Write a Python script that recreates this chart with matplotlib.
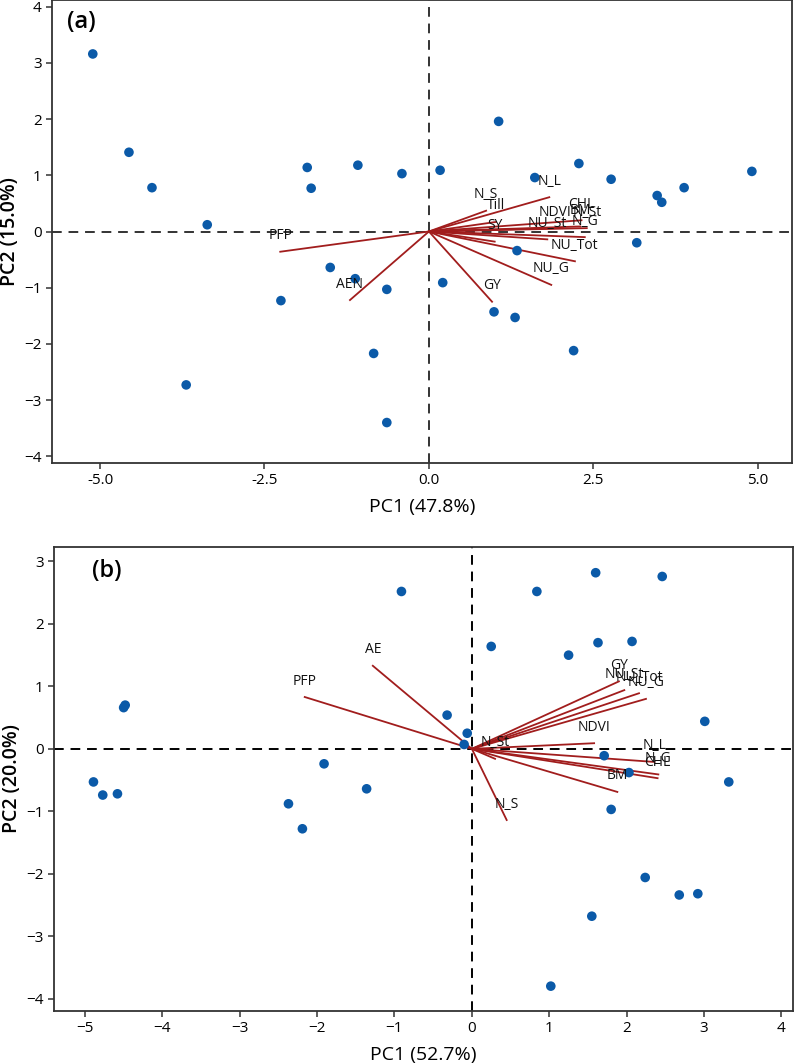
import numpy as np
import matplotlib
matplotlib.use("Agg")
import matplotlib.pyplot as plt

plt.rcParams['font.family'] = ['Open Sans', 'DejaVu Sans']

# ---- panel (a): scores ----
pc1_a = [-5.11, -4.56, -4.21, -3.37, -3.69, -1.85, -1.79, -1.08, -0.41, 0.17,
         1.06, 1.61, 2.28, 2.77, 3.47, 3.54, 3.88, 4.91, 3.16, 1.34,
         -1.50, -1.12, -0.64, -2.25, 0.21, 0.99, 1.31, -0.84, 2.20, -0.64]
pc2_a = [3.16, 1.41, 0.78, 0.12, -2.73, 1.14, 0.77, 1.18, 1.03, 1.09,
         1.96, 0.96, 1.21, 0.93, 0.64, 0.52, 0.78, 1.07, -0.20, -0.34,
         -0.64, -0.84, -1.03, -1.23, -0.91, -1.43, -1.53, -2.17, -2.12, -3.40]

# ---- panel (a): loadings ----
vars_a = ["PFP", "AEN", "GY", "NU_G", "NU_Tot", "N_L", "N_S", "Till", "SY",
          "NDVI", "CHL", "BM", "N_St", "N_G", "NU_St"]
load1_a = [-2.26, -1.20, 0.96, 1.86, 2.22, 1.83, 0.87, 1.02, 1.00,
           1.91, 2.32, 2.30, 2.40, 2.37, 1.80]
load2_a = [-0.36, -1.22, -1.25, -0.95, -0.53, 0.61, 0.37, 0.17, -0.18,
           0.06, 0.20, 0.09, 0.06, -0.10, -0.14]

# ---- panel (b): scores ----
pc1_b = [-4.89, -4.77, -4.58, -4.50, -4.48, -2.37, -2.19, -1.91, -1.36, -0.91,
         -0.32, -0.06, -0.10, 0.25, 0.84, 1.25, 1.60, 1.63, 2.07, 2.46,
         3.01, 3.32, 1.71, 2.03, 1.80, 2.24, 2.68, 2.92, 1.55, 1.02]
pc2_b = [-0.53, -0.74, -0.72, 0.66, 0.70, -0.88, -1.28, -0.24, -0.64, 2.52,
         0.54, 0.25, 0.07, 1.64, 2.52, 1.50, 2.82, 1.70, 1.72, 2.76,
         0.44, -0.53, -0.11, -0.38, -0.97, -2.06, -2.34, -2.32, -2.68, -3.80]

# ---- panel (b): loadings ----
vars_b = ["AE", "PFP", "N_S", "GY", "NU_St", "NU_Tot", "NU_G", "NDVI",
          "N_St", "N_L", "N_G", "CHL", "BM"]
load1_b = [-1.28, -2.16, 0.45, 1.90, 1.97, 2.16, 2.25, 1.58,
           0.30, 2.36, 2.41, 2.40, 1.88]
load2_b = [1.33, 0.83, -1.14, 1.08, 0.94, 0.89, 0.80, 0.09,
           -0.16, -0.21, -0.41, -0.47, -0.69]

point_col = "#0b5aa8"
line_col = "#a11d1d"

fig = plt.figure(figsize=(7.94, 10.64), dpi=100)
ax_a = fig.add_axes([52/794, 1 - 463/1064, 740/794, 463/1064])
ax_b = fig.add_axes([54/794, 1 - 1010.5/1064, 739/794, 464/1064])


def biplot(ax, x, y, names, lx, ly, dash_col):
    ax.axhline(0, color=dash_col, ls=(0, (5, 3.5)), lw=1.4, zorder=1)
    ax.axvline(0, color=dash_col, ls=(0, (5, 3.5)), lw=1.4, zorder=1)
    ax.scatter(x, y, s=48, color=point_col, edgecolors='none', zorder=3)
    for name, a, b in zip(names, lx, ly):
        ax.plot([0, a], [0, b], color=line_col, lw=1.3, zorder=2)
        ax.annotate(name, (a, b), xytext=(0, 16), textcoords='offset pixels',
                    ha='center', va='center', fontsize=10, color='#111111',
                    zorder=4)
    for sp in ax.spines.values():
        sp.set_color('#333333')
        sp.set_linewidth(1.3)
    ax.tick_params(direction='out', length=4, width=1.1, labelsize=11,
                   colors='#333333', labelcolor='black')


biplot(ax_a, pc1_a, pc2_a, vars_a, load1_a, load2_a, '#333333')
ax_a.set_xlim(-5.73, 5.52)
ax_a.set_ylim(-4.12, 4.12)
ax_a.set_xticks([-5.0, -2.5, 0.0, 2.5, 5.0])
ax_a.set_xticklabels(["-5.0", "-2.5", "0.0", "2.5", "5.0"])
ax_a.set_yticks([-4, -3, -2, -1, 0, 1, 2, 3, 4])
ax_a.set_xlabel("PC1 (47.8%)", fontsize=14, labelpad=7)
ax_a.set_ylabel("PC2 (15.0%)", fontsize=14, fontweight='semibold', labelpad=3)
ax_a.text(0.02, 0.953, "(a)", transform=ax_a.transAxes, fontsize=17,
          fontweight='semibold', va='center', ha='left')

biplot(ax_b, pc1_b, pc2_b, vars_b, load1_b, load2_b, 'black')
ax_b.set_xlim(-5.40, 4.15)
ax_b.set_ylim(-4.19, 3.24)
ax_b.set_xticks(range(-5, 5))
ax_b.set_yticks(range(-4, 4))
ax_b.set_xlabel("PC1 (52.7%)", fontsize=14, labelpad=7)
ax_b.set_ylabel("PC2 (20.0%)", fontsize=14, fontweight='semibold', labelpad=3)
ax_b.text(0.052, 0.948, "(b)", transform=ax_b.transAxes, fontsize=17,
          fontweight='semibold', va='center', ha='left')

fig.savefig("out.png", dpi=100)
